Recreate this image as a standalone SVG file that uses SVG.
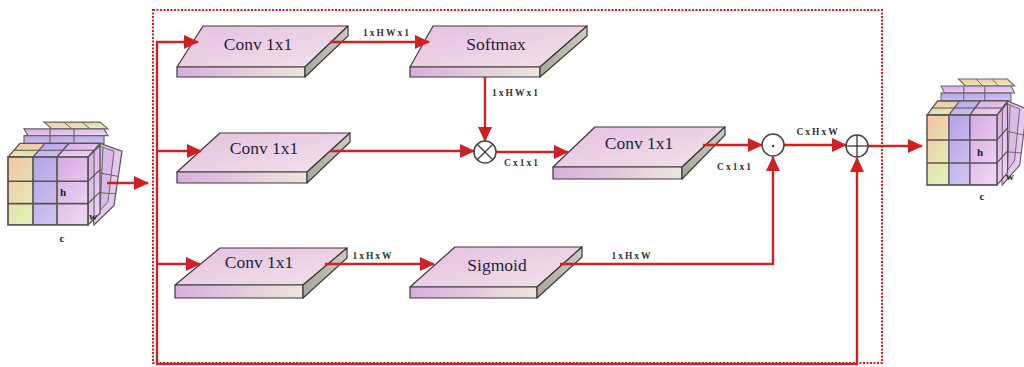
<svg xmlns="http://www.w3.org/2000/svg" width="1024" height="367" viewBox="0 0 1024 367">
<defs>
<linearGradient id="gTop" x1="0" y1="0" x2="1" y2="1"><stop offset="0" stop-color="#e6bfe0"/><stop offset="1" stop-color="#f1e2ea"/></linearGradient>
<linearGradient id="gFront" x1="0" y1="0" x2="1" y2="0"><stop offset="0" stop-color="#d8aedc"/><stop offset="1" stop-color="#ede6dc"/></linearGradient>
<linearGradient id="gSide" x1="0" y1="0" x2="1" y2="0"><stop offset="0" stop-color="#a9a69c"/><stop offset="1" stop-color="#cfcbc2"/></linearGradient>
<linearGradient id="c1" x1="0" y1="0" x2="0.4" y2="1"><stop offset="0" stop-color="#f6c2a6"/><stop offset="1" stop-color="#e2eeb4"/></linearGradient>
<linearGradient id="c2" x1="0" y1="0" x2="0.4" y2="1"><stop offset="0" stop-color="#b4a2e6"/><stop offset="1" stop-color="#cdbff0"/></linearGradient>
<linearGradient id="c3" x1="0" y1="0" x2="0.6" y2="1"><stop offset="0" stop-color="#d6a8e4"/><stop offset="1" stop-color="#eed2f2"/></linearGradient>
<marker id="ah" markerUnits="userSpaceOnUse" markerWidth="16" markerHeight="14" refX="14" refY="7" orient="auto"><path d="M0,0 L15,7 L0,14 Z" fill="#cc2226"/></marker>
<g id="cube">
  <!-- tilted back slices -->
  <polygon points="76,-20 114,-6 106,50 86,70" fill="#e4c8ee" stroke="#555" stroke-width="1.2"/>
  <polygon points="84,-14 106,-6 100,46 86,62" fill="#d9b9e6" stroke="#666" stroke-width="1"/>
  <line x1="95" y1="-10" x2="92" y2="56" stroke="#666" stroke-width="1"/>
  <line x1="80" y1="14" x2="110" y2="20" stroke="#666" stroke-width="1"/>
  <line x1="80" y1="36" x2="108" y2="38" stroke="#666" stroke-width="1"/>
  <!-- right side face -->
  <polygon points="80,0 92,-12 92,58 80,70" fill="url(#c3)" stroke="#555" stroke-width="1.3"/>
  <line x1="80" y1="25" x2="92" y2="13" stroke="#555" stroke-width="1.2"/>
  <line x1="80" y1="48" x2="92" y2="36" stroke="#555" stroke-width="1.2"/>
  <line x1="86" y1="-6" x2="86" y2="64" stroke="#555" stroke-width="1"/>
  <!-- top stacked layers -->
  <polygon points="36,-36 92,-36 100,-29 44,-29" fill="url(#c1)" stroke="#666" stroke-width="1.2"/>
  <line x1="56" y1="-36" x2="64" y2="-29" stroke="#666" stroke-width="1"/>
  <line x1="74" y1="-36" x2="82" y2="-29" stroke="#666" stroke-width="1"/>
  <polygon points="16,-29 96,-29 100,-22 20,-22" fill="url(#c3)" stroke="#666" stroke-width="1.2"/>
  <rect x="16" y="-22" width="80" height="8" fill="url(#c2)" stroke="#666" stroke-width="1.2"/>
  <line x1="42" y1="-29" x2="42" y2="-14" stroke="#666" stroke-width="1.2"/>
  <line x1="66" y1="-29" x2="66" y2="-14" stroke="#666" stroke-width="1.2"/>
  <polygon points="0,0 80,0 92,-14 12,-14" fill="url(#c1)" stroke="#555" stroke-width="1.3"/>
  <polygon points="25,0 49,0 61,-14 37,-14" fill="url(#c2)" stroke="#555" stroke-width="1.2"/>
  <polygon points="49,0 80,0 92,-14 61,-14" fill="url(#c3)" stroke="#555" stroke-width="1.2"/>
  <line x1="6" y1="-7" x2="86" y2="-7" stroke="#555" stroke-width="1.1"/>
  <!-- front face -->
  <rect x="0" y="0" width="25" height="70" fill="url(#c1)"/>
  <rect x="25" y="0" width="24" height="70" fill="url(#c2)"/>
  <rect x="49" y="0" width="31" height="70" fill="url(#c3)"/>
  <g stroke="#555" stroke-width="1.7" fill="none">
    <rect x="0" y="0" width="80" height="70"/>
    <line x1="25" y1="0" x2="25" y2="70"/>
    <line x1="49" y1="0" x2="49" y2="70"/>
    <line x1="0" y1="25" x2="80" y2="25"/>
    <line x1="0" y1="48" x2="80" y2="48"/>
  </g>
</g>
</defs>
<style>
.top{fill:url(#gTop);stroke:#3a3a3a;stroke-width:1.2;stroke-linejoin:round}
.front{fill:url(#gFront);stroke:#3a3a3a;stroke-width:1.2;stroke-linejoin:round}
.side{fill:url(#gSide);stroke:#3a3a3a;stroke-width:1.2;stroke-linejoin:round}
.lbl{font-family:"Liberation Serif",serif;font-size:17.5px;fill:#1f1f3a;text-anchor:middle}
.dim{font-family:"Liberation Serif",serif;font-size:9.5px;font-weight:bold;fill:#333;letter-spacing:2px;text-anchor:middle}
.cl{font-family:"Liberation Serif",serif;font-size:11px;font-weight:bold;fill:#222;text-anchor:middle}
.conn{fill:none;stroke:#cc2226;stroke-width:2.4}
.op{fill:#fff;stroke:#444;stroke-width:1.5}
.opl{stroke:#444;stroke-width:1.4}
</style>
<rect width="1024" height="367" fill="#fff"/>

<!-- dotted frame -->
<rect x="153" y="10" width="729" height="353" fill="none" stroke="#cc2226" stroke-width="2" stroke-dasharray="2,1.5"/>

<g id="input-cube">
  <use href="#cube" transform="translate(8,157) scale(1,0.97)"/>
  <text class="cl" x="63" y="196">h</text>
  <text class="cl" x="93" y="220" font-size="9">w</text>
  <text class="cl" x="62" y="242" font-size="10">c</text>
</g>

<g id="output-cube">
  <use href="#cube" transform="translate(927,115) scale(0.875,1)"/>
  <text class="cl" x="980" y="156">h</text>
  <text class="cl" x="1010" y="180" font-size="9">w</text>
  <text class="cl" x="982" y="200" font-size="10">c</text>
</g>

<g id="conv-top">
  <polygon class="top" points="203,26 348,26 305,67 177,67"/>
  <polygon class="front" points="177,67 305,67 305,77 177,77"/>
  <polygon class="side" points="305,67 348,26 348,36 305,77"/>
  <text class="lbl" x="258" y="50">Conv 1x1</text>
</g>
<g id="softmax">
  <polygon class="top" points="433,26 587,26 540,67 410,67"/>
  <polygon class="front" points="410,67 540,67 540,77 410,77"/>
  <polygon class="side" points="540,67 587,26 587,36 540,77"/>
  <text class="lbl" x="496" y="50">Softmax</text>
</g>
<g id="conv-mid">
  <polygon class="top" points="220,133 350,133 307,172 177,172"/>
  <polygon class="front" points="177,172 307,172 307,183 177,183"/>
  <polygon class="side" points="307,172 350,133 350,142 307,183"/>
  <text class="lbl" x="264" y="154">Conv 1x1</text>
</g>
<g id="conv-right">
  <polygon class="top" points="595,127 725,127 682,167 553,167"/>
  <polygon class="front" points="553,167 682,167 682,179 553,179"/>
  <polygon class="side" points="682,167 725,127 725,135 682,179"/>
  <text class="lbl" x="639" y="149">Conv 1x1</text>
</g>
<g id="conv-bottom">
  <polygon class="top" points="220,248 347,248 303,285 175,285"/>
  <polygon class="front" points="175,285 303,285 303,298 175,298"/>
  <polygon class="side" points="303,285 347,248 347,258 303,298"/>
  <text class="lbl" x="259" y="268">Conv 1x1</text>
</g>
<g id="sigmoid">
  <polygon class="top" points="455,247 582,247 537,287 410,287"/>
  <polygon class="front" points="410,287 537,287 537,298 410,298"/>
  <polygon class="side" points="537,287 582,247 582,257 537,298"/>
  <text class="lbl" x="497" y="271">Sigmoid</text>
</g>

<g id="connectors">
  <path class="conn" d="M107,183 H148" marker-end="url(#ah)"/>
  <path class="conn" d="M157,42 V364 H857 V158" marker-end="url(#ah)"/>
  <path class="conn" d="M156,42 H198" marker-end="url(#ah)"/>
  <path class="conn" d="M156,151 H201" marker-end="url(#ah)"/>
  <path class="conn" d="M156,264 H200" marker-end="url(#ah)"/>
  <path class="conn" d="M330,42 H429" marker-end="url(#ah)"/>
  <path class="conn" d="M485,77 V141" marker-end="url(#ah)"/>
  <path class="conn" d="M330,151 H474" marker-end="url(#ah)"/>
  <path class="conn" d="M496,152 H568" marker-end="url(#ah)"/>
  <path class="conn" d="M703,145 H762" marker-end="url(#ah)"/>
  <path class="conn" d="M784,145 H846" marker-end="url(#ah)"/>
  <path class="conn" d="M325,264 H434" marker-end="url(#ah)"/>
  <path class="conn" d="M560,264 H773 V157" marker-end="url(#ah)"/>
  <path class="conn" d="M868,146 H922" marker-end="url(#ah)"/>
</g>

<g id="op-mul">
  <circle class="op" cx="485" cy="152" r="11"/>
  <line class="opl" x1="477.2" y1="144.2" x2="492.8" y2="159.8"/>
  <line class="opl" x1="492.8" y1="144.2" x2="477.2" y2="159.8"/>
</g>
<g id="op-dot">
  <circle class="op" cx="773" cy="145" r="11"/>
  <circle cx="773" cy="146" r="1.2" fill="#444"/>
</g>
<g id="op-add">
  <circle class="op" cx="857" cy="146" r="11"/>
  <line class="opl" x1="846" y1="146" x2="868" y2="146"/>
  <line class="opl" x1="857" y1="135" x2="857" y2="157"/>
</g>

<g id="labels">
  <text class="dim" x="387" y="36">1xHWx1</text>
  <text class="dim" x="516" y="96">1xHWx1</text>
  <text class="dim" x="522" y="166">Cx1x1</text>
  <text class="dim" x="735" y="170">Cx1x1</text>
  <text class="dim" x="818" y="135">CxHxW</text>
  <text class="dim" x="373" y="259">1xHxW</text>
  <text class="dim" x="632" y="259">1xHxW</text>
</g>
</svg>
